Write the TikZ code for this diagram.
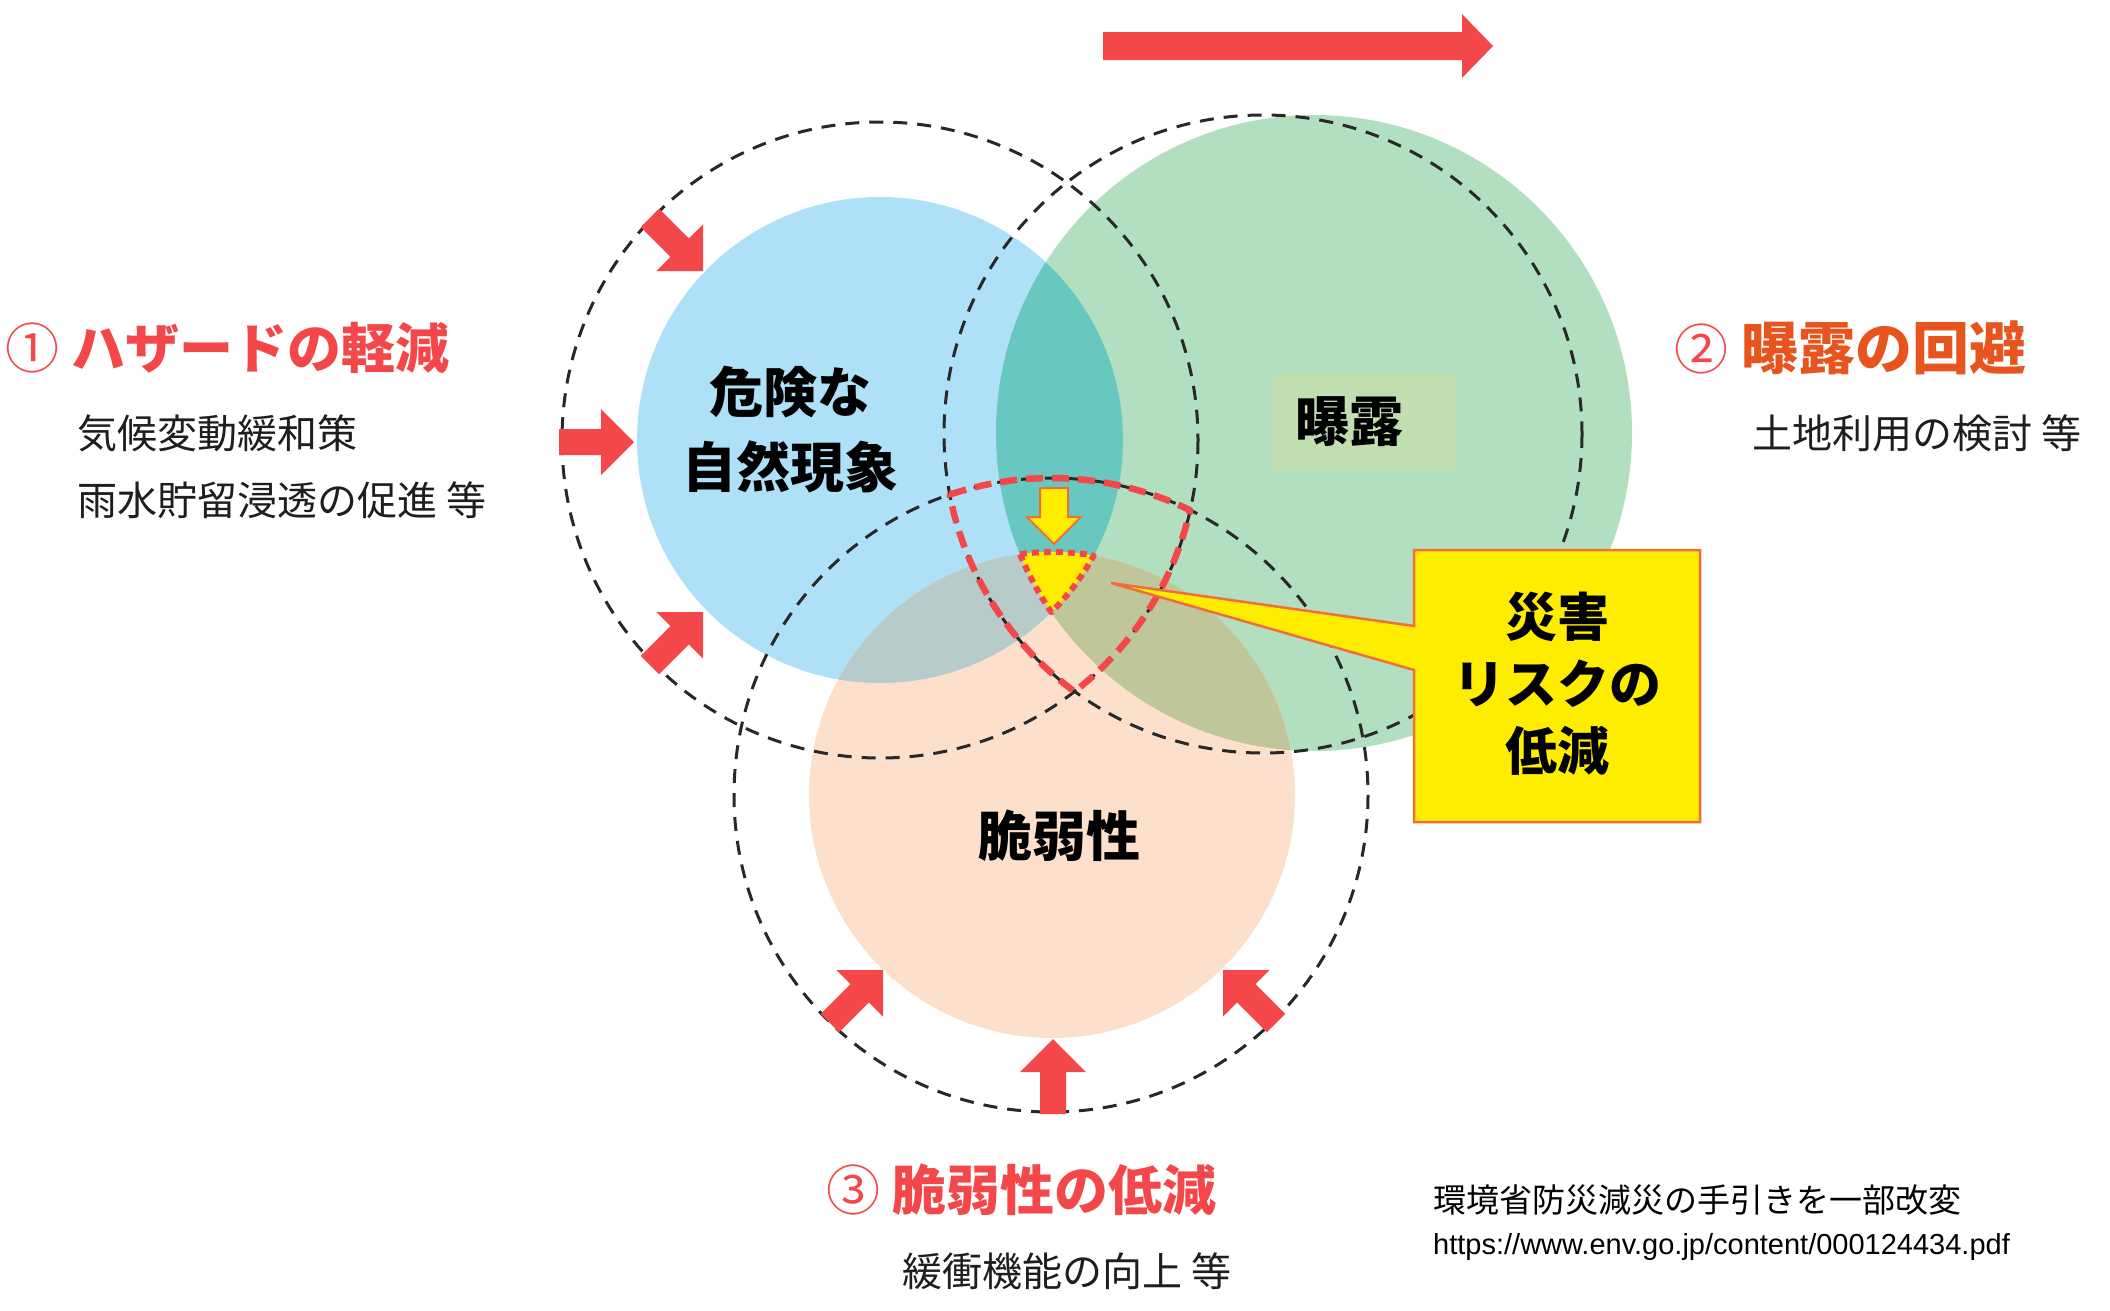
\documentclass[tikz,border=0pt]{standalone}
\usepackage{fontspec}
\newfontfamily\jp{Noto Sans CJK JP}
\newfontfamily\lat{Liberation Sans}
\definecolor{cblue}{RGB}{174,224,247}
\definecolor{cgreen}{RGB}{179,223,193}
\definecolor{cpeach}{RGB}{253,224,203}
\definecolor{cteal}{RGB}{104,200,191}
\definecolor{cbp}{RGB}{184,203,203}
\definecolor{cgp}{RGB}{191,199,154}
\definecolor{crect}{RGB}{192,222,175}
\definecolor{cred}{RGB}{244,71,74}
\definecolor{corg}{RGB}{232,84,30}
\definecolor{cyel}{RGB}{255,237,0}
\definecolor{cbord}{RGB}{240,110,60}
\definecolor{cdash}{RGB}{40,40,40}
\definecolor{ctext}{RGB}{30,30,30}
\begin{document}
\begin{tikzpicture}[x=1pt,y=1pt,yscale=-1,
  blackdash/.style={draw=cdash,line width=3pt,dash pattern=on 14pt off 10pt},
  shield/.style={draw=cred,line width=6.5pt,dash pattern=on 17pt off 9pt,line join=round},
  tridash/.style={draw=cred,line width=6pt,dash pattern=on 7pt off 5pt,line join=round},
  biglabel/.style={inner sep=0pt,font=\jp\bfseries\fontsize{54}{75}\selectfont,text=black,align=center},
  titletxt/.style={inner sep=0pt,anchor=west,font=\jp\bfseries\fontsize{54}{60}\selectfont},
  bodytxt/.style={inner sep=0pt,anchor=west,font=\jp\fontsize{40}{48}\selectfont,text=ctext},
  redarrow/.pic={\fill[cred] (-75,-13) -- (-33,-13) -- (-33,-33) -- (0,0) -- (-33,33) -- (-33,13) -- (-75,13) -- cycle;}
]
\useasboundingbox (0,0) rectangle (2110,1310);
% filled circles
\fill[cblue] (880,440) circle[radius=243];
\fill[cgreen] (1314,433) circle[radius=318];
\fill[cpeach] (1052,795) circle[radius=243];
\begin{scope}
  \clip (880,440) circle[radius=243];
  \fill[cteal] (1314,433) circle[radius=318];
  \fill[cbp] (1052,795) circle[radius=243];
\end{scope}
\begin{scope}
  \clip (1314,433) circle[radius=318];
  \fill[cgp] (1052,795) circle[radius=243];
\end{scope}
\fill[crect] (1272,374) rectangle (1457,471);
% dashed circles
\draw[blackdash] (880,440) circle[radius=318];
\draw[blackdash] (1263,434) circle[radius=319];
\draw[blackdash] (1051,795) circle[radius=317];
% shield
\draw[shield] (949.8,494.6) arc[start angle=-108.6,end angle=-63.97,radius=317]
  arc[start angle=12.74,end angle=52.26,radius=318]
  arc[start angle=126.2,end angle=169.05,radius=319] -- cycle;
% yellow triangle
\fill[cyel] (1020.0,554.1) arc[start angle=-97.57,end angle=-80.12,radius=243]
  arc[start angle=28.41,end angle=45.15,radius=243]
  arc[start angle=145.67,end angle=157.61,radius=318] -- cycle;
\draw[tridash] (1020.0,554.1) arc[start angle=-97.57,end angle=-80.12,radius=243]
  arc[start angle=28.41,end angle=45.15,radius=243]
  arc[start angle=145.67,end angle=157.61,radius=318] -- cycle;
% yellow down arrow
\filldraw[fill=cyel,draw=cbord,line width=2pt,line join=miter] (1040,488) -- (1068,488) -- (1068,517) -- (1081,517) -- (1054,544) -- (1027,517) -- (1040,517) -- cycle;
% callout
\filldraw[fill=cyel,draw=cbord,line width=2.5pt] (1414,550) -- (1700,550) -- (1700,822) -- (1414,822) -- (1414,670) -- (1111,583) -- (1414,626) -- cycle;
\node[biglabel,font=\jp\bfseries\fontsize{52}{67}\selectfont] (risk) at (1557,684) {災害\\リスクの\\低減};
% red arrows
\pic[rotate=-45] at (703,271) {redarrow};
\pic[rotate=0] at (634,442) {redarrow};
\pic[rotate=45] at (703,612) {redarrow};
\pic[rotate=45] at (883,970) {redarrow};
\pic[rotate=90] at (1053,1039) {redarrow};
\pic[rotate=135] at (1223,970) {redarrow};
\fill[cred] (1103,32) -- (1462,32) -- (1462,14) -- (1493,46) -- (1462,78) -- (1462,60) -- (1103,60) -- cycle;
% circle labels
\node[biglabel] (haz) at (790,430) {危険な\\自然現象};
\node[biglabel] (exp) at (1349,422) {曝露};
\node[biglabel] (vul) at (1059,836) {脆弱性};
% side texts
\node[titletxt,text=cred] (t1) at (5,348) {{\mdseries ①} ハザードの軽減};
\node[bodytxt] (b1a) at (77,433) {気候変動緩和策};
\node[bodytxt] (b1b) at (77,500) {雨水貯留浸透の促進 等};
\node[titletxt,text=corg,font=\jp\bfseries\fontsize{57}{62}\selectfont] (t2) at (1674,348) {{\mdseries\color{cred}\fontsize{54}{60}\selectfont ②} 曝露の回避};
\node[bodytxt] (b2) at (1752,433) {土地利用の検討 等};
\node[titletxt,text=cred] (t3) at (826,1190) {{\mdseries ③} 脆弱性の低減};
\node[bodytxt] (b3) at (902,1271) {緩衝機能の向上 等};
\node[inner sep=0pt,anchor=west,font=\jp\fontsize{33}{40}\selectfont,text=black] (src1) at (1433,1200) {環境省防災減災の手引きを一部改変};
\node[inner sep=0pt,anchor=west,font=\lat\fontsize{29}{34}\selectfont,text=black] (src2) at (1433,1247) {https://www.env.go.jp/content/000124434.pdf};
\end{tikzpicture}
\end{document}
